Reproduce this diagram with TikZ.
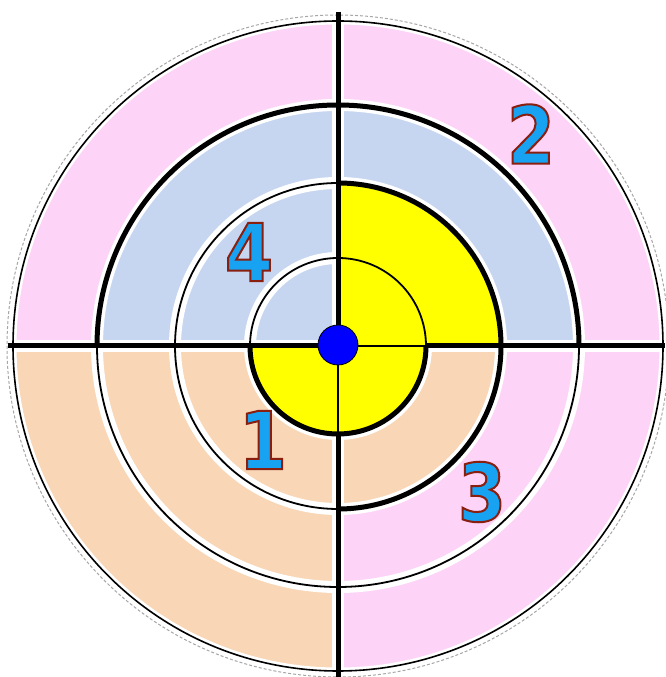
\documentclass[tikz,border=0pt]{standalone}
\usepackage{fontspec}
\newfontfamily\digitfont[FakeStretch=0.86]{DejaVu Sans}
\definecolor{pinkc}{HTML}{FDD3F8}
\definecolor{bluec}{HTML}{C6D6F1}
\definecolor{peachc}{HTML}{F8D6B6}
\definecolor{yellowc}{HTML}{FFFF00}
\definecolor{dotblue}{HTML}{0000FF}
\definecolor{digitblue}{HTML}{17A2F2}
\definecolor{digitedge}{HTML}{8A1E10}
\newcommand\sectorfill[4]{\fill[#1] (C) -- ++(#2:#4) arc[start angle=#2, end angle=#3, radius=#4] -- cycle;}
\newcommand\outlined[1]{\special{pdf:literal direct 2 Tr 2 w 0.54 0.12 0.06 RG}#1\special{pdf:literal direct 0 Tr}}
\begin{document}
\begin{tikzpicture}[x=1pt,y=1pt,
  thickline/.style={black, line width=5pt},
  thinline/.style={black, line width=1.8pt},
  thickhalo/.style={white, line width=12pt},
  thinhalo/.style={white, line width=7pt},
  digitnode/.style={inner sep=0pt, text=digitblue, font=\digitfont\bfseries\fontsize{80}{80}\selectfont}]
\useasboundingbox (0,0) rectangle (665,677);
\coordinate (C) at (338,331);
% pastel sectors
\sectorfill{pinkc}{90}{180}{325}
\sectorfill{bluec}{90}{180}{241}
\sectorfill{pinkc}{0}{90}{325}
\sectorfill{bluec}{0}{90}{241}
\sectorfill{peachc}{180}{270}{325}
\sectorfill{pinkc}{270}{360}{325}
\sectorfill{peachc}{270}{360}{163}
% white halos
\draw[thinhalo] (C) circle[radius=325];
\draw[thickhalo] (C) circle[radius=241];
\draw[thickhalo] (C) circle[radius=163];
\draw[thickhalo] (C) circle[radius=88];
\draw[thickhalo] (8,331) -- (665,331);
\draw[thickhalo] (338,665) -- (338,0);
% yellow
\sectorfill{yellowc}{0}{90}{163}
\sectorfill{yellowc}{180}{360}{88}
% outer rings
\draw[gray!70, line width=1pt, dash pattern=on 3pt off 2pt] (C) circle[radius=331];
\draw[black, line width=1.6pt] (C) circle[radius=325];
% circles
\draw[thinline] (C) ++(0:88) arc[start angle=0, end angle=180, radius=88];
\draw[thickline] (C) ++(180:88) arc[start angle=180, end angle=360, radius=88];
\draw[thickline] (C) ++(-90:163) arc[start angle=-90, end angle=90, radius=163];
\draw[thinline] (C) ++(90:163) arc[start angle=90, end angle=270, radius=163];
\draw[thickline] (C) ++(0:241) arc[start angle=0, end angle=180, radius=241];
\draw[thinline] (C) ++(180:241) arc[start angle=180, end angle=360, radius=241];
% crosshair
\coordinate (L) at (8,331);
\coordinate (R) at (665,331);
\coordinate (T) at (338,665);
\coordinate (B) at (338,0);
\coordinate (R1) at (426,331);
\coordinate (B1) at (338,243);
\draw[thickline] (L) -- (C);
\draw[thinline] (C) -- (R1);
\draw[thickline] (R1) -- (R);
\draw[thickline] (T) -- (C);
\draw[thinline] (C) -- (B1);
\draw[thickline] (B1) -- (B);
% centre dot
\node[circle, fill=dotblue, draw=black, line width=0.8pt, minimum size=40pt, inner sep=0pt] (dot) at (338,332) {};
% digits
\node[digitnode] (d1) at (263,237) {\outlined{1}};
\node[digitnode] (d2) at (531,543) {\outlined{2}};
\node[digitnode] (d3) at (482,185) {\outlined{3}};
\node[digitnode] (d4) at (249,425) {\outlined{4}};
\end{tikzpicture}
\end{document}
